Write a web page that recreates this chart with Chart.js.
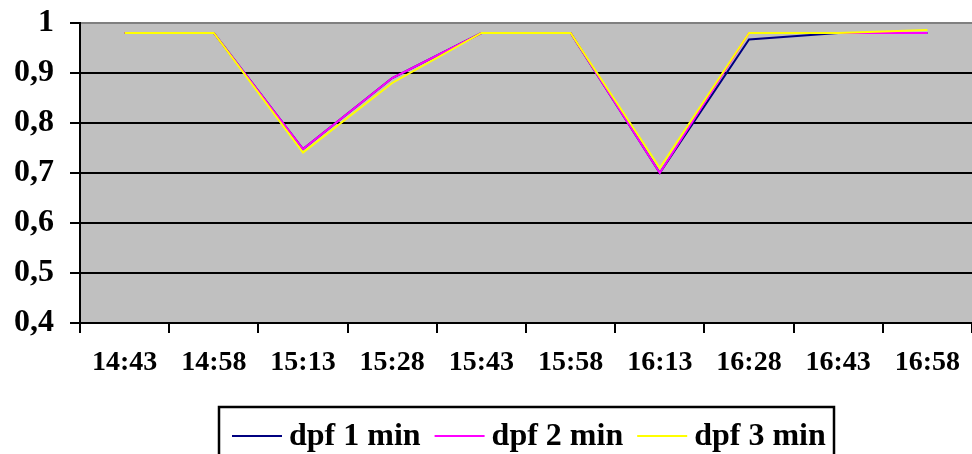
<!DOCTYPE html>
<html>
<head>
<meta charset="utf-8">
<script src="https://cdn.jsdelivr.net/npm/chart.js@4/dist/chart.umd.min.js"></script>
<style>
html,body{margin:0;padding:0;background:#fff;}
#wrap{width:972px;height:454px;position:relative;}
</style>
</head>
<body>
<div id="wrap"><canvas id="c" width="972" height="454"></canvas></div>
<script>
const categories = ['14:43','14:58','15:13','15:28','15:43','15:58','16:13','16:28','16:43','16:58'];
const dpf1 = [0.98,0.98,0.748,0.89,0.98,0.98,0.70,0.967,0.98,0.98];
const dpf2 = [0.98,0.98,0.748,0.89,0.98,0.98,0.70,0.98,0.98,0.98];
const dpf3 = [0.98,0.98,0.741,0.88,0.98,0.98,0.71,0.98,0.98,0.986];
const seriesNames = ['dpf 1 min','dpf 2 min','dpf 3 min'];
const seriesColors = ['#000080','#FF00FF','#FFFF00'];
const yTickValues = [0.4,0.5,0.6,0.7,0.8,0.9,1];
const yTickLabels = ['0,4','0,5','0,6','0,7','0,8','0,9','1'];

const FONT = "'Liberation Serif','Times New Roman',serif";

const plotBg = {
  id:'plotBg',
  beforeDraw(chart){
    const {ctx, chartArea:a} = chart;
    ctx.save();
    ctx.fillStyle = '#C0C0C0';
    ctx.fillRect(a.left, a.top, a.right - a.left, a.bottom - a.top);
    ctx.restore();
  }
};

const boxLegend = {
  id:'boxLegend',
  afterDraw(chart){
    const ctx = chart.ctx;
    ctx.save();
    ctx.strokeStyle = '#000';
    ctx.lineWidth = 2.5;
    ctx.strokeRect(219, 407, 615, 60);
    ctx.font = 'bold 32px ' + FONT;
    ctx.textBaseline = 'middle';
    let x = 232;
    const y = 436;
    chart.data.datasets.forEach((ds) => {
      ctx.strokeStyle = ds.borderColor;
      ctx.lineWidth = 2;
      ctx.beginPath();
      ctx.moveTo(x, y);
      ctx.lineTo(x + 50, y);
      ctx.stroke();
      x += 57;
      ctx.fillStyle = '#000';
      ctx.fillText(ds.label, x, y + 1);
      x += ctx.measureText(ds.label).width + 14;
    });
    ctx.restore();
  }
};

const datasets = [dpf1, dpf2, dpf3].map((d, i) => ({
  label: seriesNames[i],
  data: d,
  borderColor: seriesColors[i],
  backgroundColor: seriesColors[i],
  borderWidth: 2,
  pointRadius: 0,
  tension: 0,
  fill: false,
  order: 3 - i
}));

new Chart(document.getElementById('c'), {
  type: 'line',
  data: { labels: categories, datasets },
  options: {
    responsive: false,
    animation: false,
    layout: { padding: { top: 23, right: -2, left: 0, bottom: 0 } },
    plugins: { legend: { display: false }, tooltip: { enabled: false } },
    scales: {
      x: {
        offset: true,
        grid: { offset: true, drawOnChartArea: false, drawTicks: true, tickLength: 10, tickColor: '#000', lineWidth: 2 },
        border: { color: '#000', width: 2 },
        ticks: { color: '#000', font: { family: FONT, size: 28, weight: 'bold' }, padding: 13, maxRotation: 0, autoSkip: false },
        afterFit(s){ s.height = 131; s.paddingLeft = 0; s.paddingRight = 0; }
      },
      y: {
        min: 0.4, max: 1,
        afterBuildTicks(s){ s.ticks = yTickValues.map(v => ({ value: v })); },
        grid: {
          color: (c) => (c.tick && c.tick.value === 1) ? '#808080' : '#000',
          tickColor: '#000', lineWidth: 2, tickLength: 10
        },
        border: { color: '#000', width: 2 },
        ticks: {
          color: '#000', padding: 16,
          font: { family: FONT, size: 32, weight: 'bold' },
          callback: (v) => { const i = yTickValues.findIndex(t => Math.abs(t - v) < 1e-9); return i >= 0 ? yTickLabels[i] : ''; }
        },
        afterFit(s){ s.width = 80; s.paddingTop = 0; s.paddingBottom = 0; }
      }
    }
  },
  plugins: [plotBg, boxLegend]
});
</script>
</body>
</html>
